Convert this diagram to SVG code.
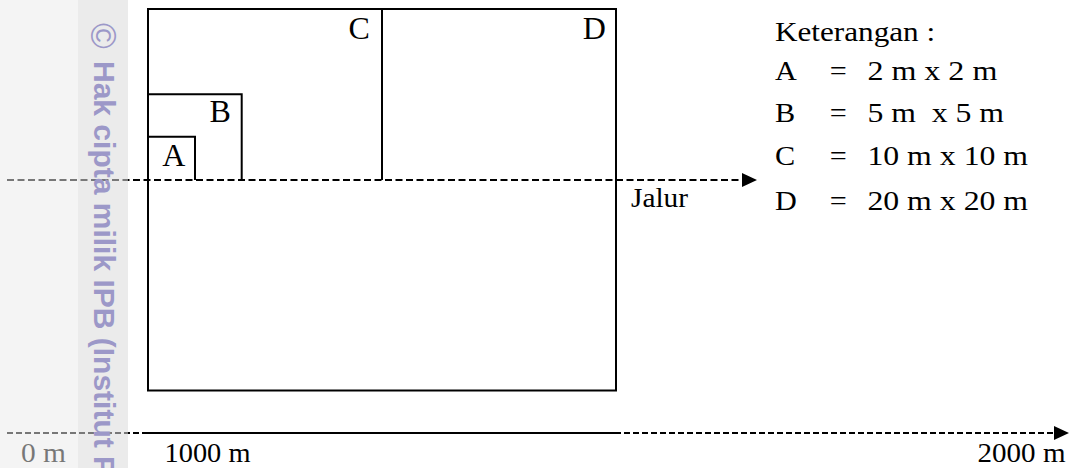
<svg xmlns="http://www.w3.org/2000/svg" width="1070" height="468" viewBox="0 0 1070 468">
  <style>
    .serif { font-family: "Liberation Serif", "Times New Roman", serif; fill: #000; }
    .lbl { font-size: 32px; }
    .txt { font-size: 27px; }
    .box { fill: none; stroke: #000; stroke-width: 2; }
    .path-line { fill: none; stroke: #000; stroke-width: 2.2; stroke-dasharray: 7 3.5; }
    .axis-dash { fill: none; stroke: #000; stroke-width: 2; stroke-dasharray: 6 3; }
    .axis-solid { fill: none; stroke: #000; stroke-width: 2; }
    .wm { font-family: "Liberation Sans", Arial, sans-serif; font-weight: bold; font-size: 30px; fill: #9c98c8; }
    .wm-c { font-family: "Liberation Sans", Arial, sans-serif; font-size: 35px; fill: #9c98c8; }
  </style>
  <defs>
    <marker id="head" markerUnits="userSpaceOnUse" markerWidth="15" markerHeight="14" refX="0" refY="7" orient="auto">
      <path d="M0,0 L15,7 L0,14 Z" fill="#000"/>
    </marker>
  </defs>

  <rect x="0" y="0" width="1070" height="468" fill="#fff"/>

  <!-- main 20 m plot -->
  <g id="plot-D">
    <rect class="box" x="148" y="9" width="468" height="381.5"/>
    <text class="serif lbl" x="582.8" y="39">D</text>
  </g>
  <g id="plot-C">
    <line class="box" x1="382" y1="9" x2="382" y2="180"/>
    <text class="serif lbl" x="348.4" y="39">C</text>
  </g>
  <g id="plot-B">
    <polyline class="box" points="148,94.3 241.7,94.3 241.7,180"/>
    <text class="serif lbl" x="209.5" y="122.3">B</text>
  </g>
  <g id="plot-A">
    <polyline class="box" points="148,136.7 195,136.7 195,180"/>
    <text class="serif lbl" x="162.2" y="165.7">A</text>
  </g>

  <!-- transect line and distance axis -->
  <g id="connectors">
    <line class="path-line" x1="7" y1="180" x2="742" y2="180" marker-end="url(#head)"/>
    <line class="axis-dash" x1="7" y1="433" x2="147" y2="433"/>
    <line class="axis-solid" x1="147" y1="433" x2="615" y2="433"/>
    <line class="axis-dash" x1="615" y1="433" x2="1054" y2="433" marker-end="url(#head)"/>
  </g>

  <g id="label-jalur">
    <text class="serif txt" x="631" y="207" textLength="57" lengthAdjust="spacingAndGlyphs">Jalur</text>
  </g>

  <g id="axis-labels">
    <text class="serif txt" x="21" y="462" textLength="45" lengthAdjust="spacingAndGlyphs">0 m</text>
    <text class="serif txt" x="164.5" y="462" textLength="86" lengthAdjust="spacingAndGlyphs">1000 m</text>
    <text class="serif txt" x="977.5" y="462" textLength="88" lengthAdjust="spacingAndGlyphs">2000 m</text>
  </g>

  <!-- legend -->
  <g id="legend" transform="translate(775 0) scale(1.12 1)">
    <text class="serif txt" x="0" y="41.5" textLength="143" lengthAdjust="spacingAndGlyphs">Keterangan :</text>
    <text class="serif txt" x="0" y="80.5">A</text>
    <text class="serif txt" x="49" y="80.5">=</text>
    <text class="serif txt" x="82.5" y="80.5" textLength="116" lengthAdjust="spacingAndGlyphs">2 m x 2 m</text>
    <text class="serif txt" x="0" y="122.5">B</text>
    <text class="serif txt" x="49" y="122.5">=</text>
    <text class="serif txt" x="82.5" y="122.5" textLength="122" lengthAdjust="spacingAndGlyphs" style="white-space:pre">5 m  x 5 m</text>
    <text class="serif txt" x="0" y="165.5">C</text>
    <text class="serif txt" x="49" y="165.5">=</text>
    <text class="serif txt" x="82.5" y="165.5" textLength="143.5" lengthAdjust="spacingAndGlyphs">10 m x 10 m</text>
    <text class="serif txt" x="0" y="210.5">D</text>
    <text class="serif txt" x="49" y="210.5">=</text>
    <text class="serif txt" x="82.5" y="210.5" textLength="143.5" lengthAdjust="spacingAndGlyphs">20 m x 20 m</text>
  </g>

  <!-- copyright margin band -->
  <g id="watermark">
    <rect x="0" y="0" width="78" height="468" fill="#e9e9e9" fill-opacity="0.51"/>
    <rect x="78" y="0" width="50" height="468" fill="#dadada" fill-opacity="0.55"/>
    <text class="wm-c" transform="translate(91 23) rotate(90)">©</text>
    <text class="wm" transform="translate(94 61) rotate(90)">Hak cipta milik IPB (Institut P</text>
  </g>
</svg>
